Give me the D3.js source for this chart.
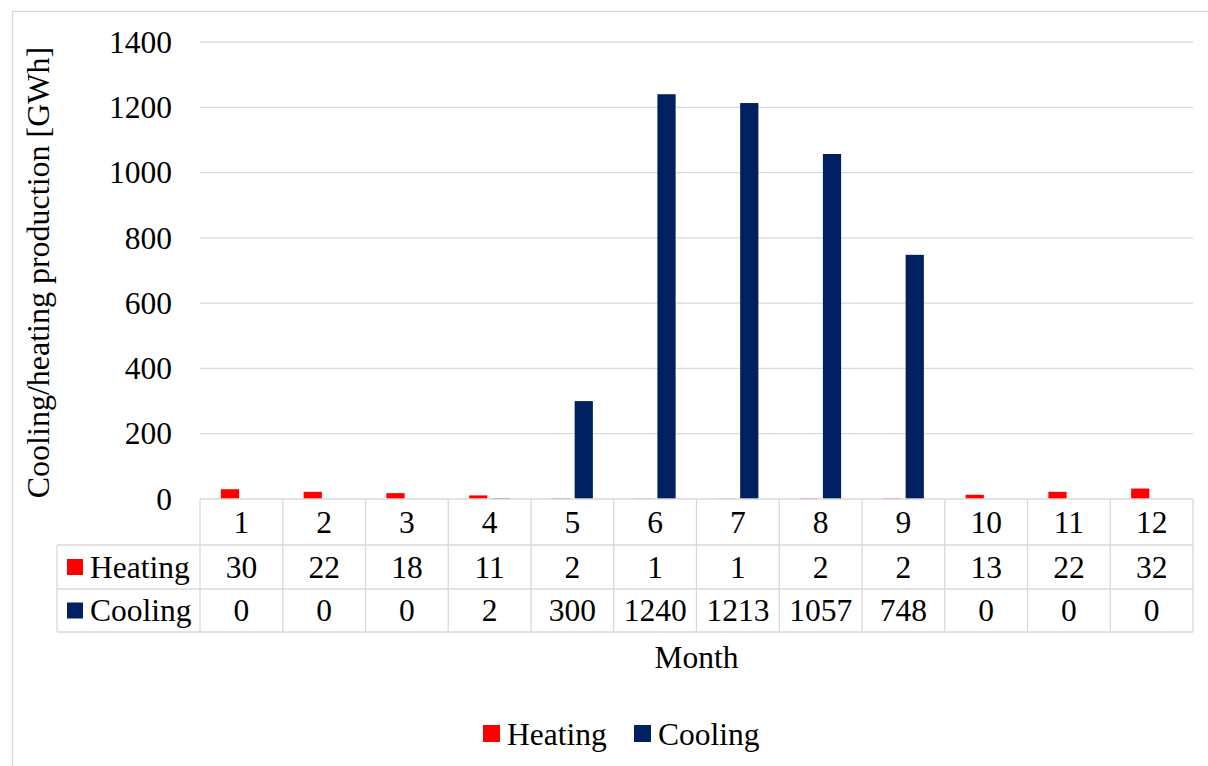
<!DOCTYPE html>
<meta charset="utf-8">
<style>
body { margin: 0; background: #fff; }
svg text { font-family: "Liberation Serif", "Times New Roman", "DejaVu Serif", serif; fill: #000; }
.grid line { stroke: #d9d9d9; stroke-width: 1.3; }
.tbl line { stroke: #d9d9d9; stroke-width: 1.3; }
</style>
<body>
<svg width="1208" height="766"></svg>
<script src="https://cdn.jsdelivr.net/npm/d3@7"></script>
<script>

var months = ["1","2","3","4","5","6","7","8","9","10","11","12"];
var seriesNames = ["Heating", "Cooling"];
var heating = [30, 22, 18, 11, 2, 1, 1, 2, 2, 13, 22, 32];
var cooling = [0, 0, 0, 2, 300, 1240, 1213, 1057, 748, 0, 0, 0];
var yTicks = [0, 200, 400, 600, 800, 1000, 1200, 1400];
var colors = ["#ff0000", "#002060"];

var svg = d3.select("svg"),
    width = +svg.attr("width"),
    height = +svg.attr("height");

var plotLeft = 200, plotRight = 1193, plotTop = 42, plotBottom = 499;
var rowH = [plotBottom, 545, 589, 632];   // table row boundaries
var tableLeft = 57;
var fs = 31.5;

// outer chart border
svg.append("rect")
    .attr("x", 12.5).attr("y", 11.5)
    .attr("width", width).attr("height", height)
    .attr("fill", "none").attr("stroke", "#d9d9d9").attr("stroke-width", 1.3);

var x = d3.scaleBand().domain(months).range([plotLeft, plotRight]).padding(0);
var bw = x.bandwidth();
var x1 = d3.scaleBand().domain(seriesNames)
    .range([bw / 2 - 20.5, bw / 2 + 20.5]).paddingInner(0.2);
var y = d3.scaleLinear().domain([0, 1400]).range([plotBottom, plotTop]);

// gridlines
svg.append("g").attr("class", "grid")
  .selectAll("line").data(yTicks.filter(function(d) { return d > 0; }))
  .enter().append("line")
    .attr("x1", plotLeft).attr("x2", plotRight)
    .attr("y1", function(d) { return y(d); })
    .attr("y2", function(d) { return y(d); });

// y axis labels
svg.append("g")
  .selectAll("text").data(yTicks)
  .enter().append("text")
    .attr("x", 172)
    .attr("y", function(d) { return y(d); })
    .attr("dy", "0.34em")
    .attr("text-anchor", "end")
    .style("font-size", fs + "px")
    .text(function(d) { return d; });

svg.append("text")
    .attr("transform", "translate(49," + ((plotTop + plotBottom) / 2 + 2) + ") rotate(-90)")
    .attr("text-anchor", "middle")
    .style("font-size", "32px")
    .text("Cooling/heating production [GWh]");

// bars
var series = [heating, cooling];
series.forEach(function(vals, si) {
  svg.append("g")
    .selectAll("rect").data(vals)
    .enter().append("rect")
      .attr("x", function(d, i) { return x(months[i]) + x1(seriesNames[si]); })
      .attr("width", x1.bandwidth())
      .attr("y", function(d) { return y(d); })
      .attr("height", function(d) { return plotBottom - y(d); })
      .attr("fill", colors[si]);
});

// data table
var tbl = svg.append("g").attr("class", "tbl");
tbl.append("line").attr("x1", plotLeft).attr("x2", plotRight).attr("y1", rowH[0]).attr("y2", rowH[0]);
tbl.selectAll(".hl").data(rowH.slice(1)).enter().append("line")
    .attr("x1", tableLeft).attr("x2", plotRight)
    .attr("y1", function(d) { return d; }).attr("y2", function(d) { return d; });
tbl.selectAll(".vl").data(months.concat(["end"])).enter().append("line")
    .attr("x1", function(d, i) { return plotLeft + i * bw; })
    .attr("x2", function(d, i) { return plotLeft + i * bw; })
    .attr("y1", rowH[0]).attr("y2", rowH[3]);
tbl.append("line").attr("x1", tableLeft).attr("x2", tableLeft).attr("y1", rowH[1]).attr("y2", rowH[3]);

var rows = [months, heating, cooling];
rows.forEach(function(r, ri) {
  svg.append("g")
    .selectAll("text").data(r)
    .enter().append("text")
      .attr("x", function(d, i) { return x(months[i]) + bw / 2; })
      .attr("y", (rowH[ri] + rowH[ri + 1]) / 2)
      .attr("dy", "0.34em")
      .attr("text-anchor", "middle")
      .style("font-size", fs + "px")
      .text(function(d) { return d; });
});

seriesNames.forEach(function(n, si) {
  var cy = (rowH[si + 1] + rowH[si + 2]) / 2;
  svg.append("rect").attr("x", 67).attr("y", cy - 8).attr("width", 16).attr("height", 16).attr("fill", colors[si]);
  svg.append("text").attr("x", 90).attr("y", cy).attr("dy", "0.34em")
    .style("font-size", fs + "px").text(n);
});

svg.append("text")
    .attr("x", (plotLeft + plotRight) / 2)
    .attr("y", 668)
    .attr("text-anchor", "middle")
    .style("font-size", fs + "px")
    .text("Month");

// legend
var legX = [483, 634];
seriesNames.forEach(function(n, si) {
  var g = svg.append("g").attr("transform", "translate(" + legX[si] + ",725)");
  g.append("rect").attr("width", 17).attr("height", 17).attr("fill", colors[si]);
  g.append("text").attr("x", 24).attr("y", 9).attr("dy", "0.34em")
    .style("font-size", fs + "px").text(n);
});

</script>
</body>
